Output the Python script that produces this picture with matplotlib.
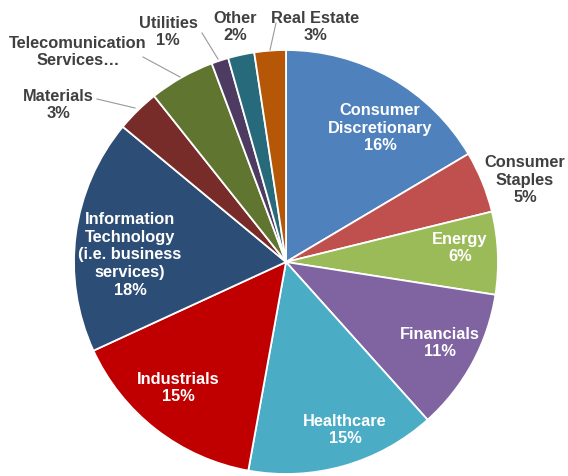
import matplotlib

matplotlib.use("Agg")
import matplotlib.pyplot as plt

# data (share of portfolio)
sectors = [
    "Consumer Discretionary", "Consumer Staples", "Energy", "Financials",
    "Healthcare", "Industrials", "Information Technology", "Materials",
    "Telecomunication Services", "Utilities", "Other", "Real Estate",
]
shares = [16.5, 4.7, 6.3, 10.9, 14.5, 15.3, 17.9, 3.3, 5.0, 1.3, 2.0, 2.4]
labels = [
    "Consumer\nDiscretionary\n16%", "Consumer\nStaples\n5%", "Energy\n6%",
    "Financials\n11%", "Healthcare\n15%", "Industrials\n15%",
    "Information\nTechnology\n(i.e. business\nservices)\n18%",
    "Materials\n3%", "Telecomunication\nServices…", "Utilities\n1%",
    "Other\n2%", "Real Estate\n3%",
]
colors = ["#4F81BD", "#C0504D", "#9BBB59", "#8064A2", "#4BACC6", "#C00000",
          "#2C4D75", "#772C2A", "#5F7530", "#4D3B62", "#276A7C", "#B65708"]

# layout (pixels in the 568x476 picture): centre, radius
CX, CY, R = 286, 262, 212
W, H = 568, 476
DARK = "#404040"
# label position, text colour, leader line (text end, wedge end) or None
label_pos = [
    ((380, 128), "white", None),
    ((525, 180), DARK, None),
    ((460, 248), "white", None),
    ((440, 343), "white", None),
    ((345, 430), "white", None),
    ((178, 388), "white", None),
    ((130, 255), "white", None),
    ((58, 105), DARK, ((97, 99), (135, 108))),
    ((78, 52), DARK, ((143, 57), (180, 77))),
    ((168, 32), DARK, ((202, 33), (218, 59))),
    ((235, 27), DARK, None),
    ((315, 27), DARK, ((276, 23), (270, 50))),
]


def px(p):
    """pixel (from top-left) -> pie data coords"""
    return (p[0] - CX) / R, (CY - p[1]) / R


fig = plt.figure(figsize=(W / 100, H / 100), dpi=100)
ax = fig.add_axes([(CX - R) / W, (H - CY - R) / H, 2 * R / W, 2 * R / H])
ax.pie(shares, colors=colors, startangle=90, counterclock=False, radius=1,
       wedgeprops={"edgecolor": "white", "linewidth": 1.3})
ax.set_xlim(-1, 1)
ax.set_ylim(-1, 1)
ax.set_aspect("equal")
ax.axis("off")

for lab, (pos, col, leader) in zip(labels, label_pos):
    x, y = px(pos)
    ax.text(x, y, lab, ha="center", va="center", color=col, fontsize=11.8,
            fontweight="bold", family=["Liberation Sans", "DejaVu Sans"],
            linespacing=1.22, clip_on=False)
    if leader:
        (x0, y0), (x1, y1) = px(leader[0]), px(leader[1])
        ax.plot([x0, x1], [y0, y1], color="#999999", lw=0.8, clip_on=False)

fig.savefig("out.png", dpi=100)
